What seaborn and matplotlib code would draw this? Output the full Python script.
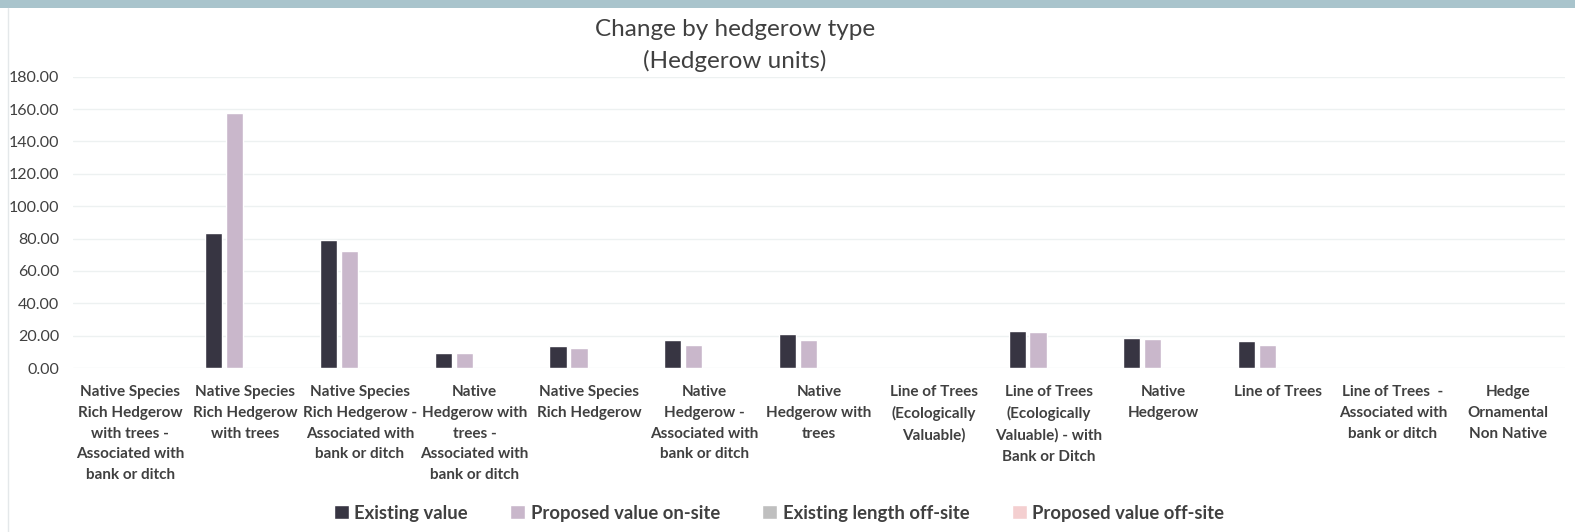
import matplotlib
matplotlib.use("Agg")
import matplotlib.pyplot as plt
from matplotlib.patches import Rectangle
from matplotlib.lines import Line2D
import seaborn as sns
import pandas as pd

# Hedgerow habitat types (wrapped as they appear on the axis)
categories = [
    "Native Species\nRich Hedgerow\nwith trees -\nAssociated with\nbank or ditch",
    "Native Species\nRich Hedgerow\nwith trees",
    "Native Species\nRich Hedgerow -\nAssociated with\nbank or ditch",
    "Native\nHedgerow with\ntrees -\nAssociated with\nbank or ditch",
    "Native Species\nRich Hedgerow",
    "Native\nHedgerow -\nAssociated with\nbank or ditch",
    "Native\nHedgerow with\ntrees",
    "Line of Trees\n(Ecologically\nValuable)",
    "Line of Trees\n(Ecologically\nValuable) - with\nBank or Ditch",
    "Native\nHedgerow",
    "Line of Trees",
    "Line of Trees  -\nAssociated with\nbank or ditch",
    "Hedge\nOrnamental\nNon Native",
]

series_names = ["Existing value", "Proposed value on-site",
                "Existing length off-site", "Proposed value off-site"]

existing_value = [0, 83.7, 79.2, 9.3, 13.3, 17.6, 21.3, 0, 22.6, 18.7, 16.5, 0, 0]
proposed_onsite = [0, 157.4, 72.6, 9.2, 12.3, 14.4, 17.6, 0, 22.2, 17.8, 14.4, 0, 0]
existing_offsite = [0] * 13
proposed_offsite = [0] * 13

series_colors = ["#373542", "#c9b7cb", "#bfbfbf", "#f4cfd0"]

yticks = [0, 20, 40, 60, 80, 100, 120, 140, 160, 180]

rows = []
for name, vals in zip(series_names,
                      [existing_value, proposed_onsite, existing_offsite, proposed_offsite]):
    for cat, v in zip(categories, vals):
        rows.append({"category": cat, "series": name, "value": v})
df = pd.DataFrame(rows)

sns.set_theme(style="white")
plt.rcParams["font.family"] = ["Lato", "DejaVu Sans"]

fig = plt.figure(figsize=(15.75, 5.32), dpi=100)
fig.patch.set_facecolor("white")

# header band and left frame line
fig.add_artist(Rectangle((0, 1 - 8 / 532), 1, 8 / 532, transform=fig.transFigure,
                         facecolor="#a9c4cc", edgecolor="none", zorder=0))
fig.add_artist(Line2D([7.5 / 1575, 7.5 / 1575], [0, 1 - 8 / 532], transform=fig.transFigure,
                      color="#e4e8ea", lw=1))

ax = fig.add_axes([73 / 1575, 1 - 368 / 532, (1565 - 73) / 1575, (368 - 76.7) / 532])

sns.barplot(data=df, x="category", y="value", hue="series", hue_order=series_names,
            order=categories, palette=series_colors, width=0.73, gap=0.18,
            errorbar=None, saturation=1, ax=ax, zorder=3)

ax.set_ylim(0, 180)
ax.set_yticks(yticks)
ax.set_yticklabels([f"{t:.2f}" for t in yticks], fontsize=11.5, color="#404040")
ax.yaxis.grid(True, color="#edf1f1", lw=1, zorder=0)
ax.set_axisbelow(True)
for s in ax.spines.values():
    s.set_visible(False)
ax.tick_params(axis="y", length=0, pad=10)
ax.tick_params(axis="x", length=0, pad=12)
ax.set_xlabel("")
ax.set_ylabel("")
ax.set_xticks(range(len(categories)))
ax.set_xticklabels(categories, fontsize=11, fontweight="bold", color="#404040",
                   linespacing=1.63, va="top")
ax.set_xlim(-0.5, len(categories) - 0.5)

fig.text(735 / 1575, 1 - 30 / 532, "Change by hedgerow type", ha="center", va="center",
         fontsize=17.5, color="#404040")
fig.text(735 / 1575, 1 - 61 / 532, "(Hedgerow units)", ha="center", va="center",
         fontsize=17.5, color="#404040")

handles, labels = ax.get_legend_handles_labels()
ax.legend_.remove()
fig.legend(handles, labels, loc="center", bbox_to_anchor=(779 / 1575, 1 - 513 / 532),
           ncol=4, frameon=False, handlelength=0.8, handleheight=0.8,
           handletextpad=0.3, columnspacing=2.3,
           prop={"family": ["Lato", "DejaVu Sans"], "weight": "bold", "size": 13.3})
for t in fig.legends[0].get_texts():
    t.set_color("#404040")

fig.savefig("out.png", dpi=100, facecolor="white")
